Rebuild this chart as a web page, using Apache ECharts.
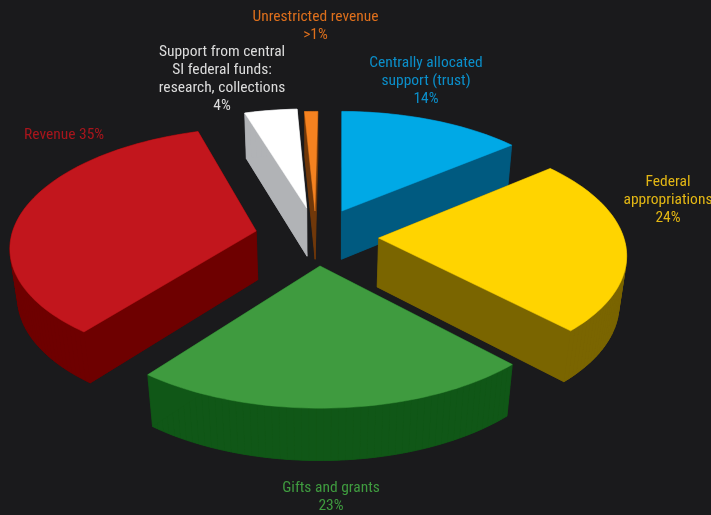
<!DOCTYPE html>
<html>
<head>
<meta charset="utf-8">
<style>html,body{margin:0;padding:0;background:#1a1a1c}#chart{width:711px;height:515px}</style>
<script src="https://cdn.jsdelivr.net/npm/echarts@6/dist/echarts.min.js"></script>
</head>
<body>
<div id="chart"></div>
<script>
// Funding sources, clockwise from twelve o'clock (percent)
var categories = ['Centrally allocated\nsupport (trust)', 'Federal\nappropriations', 'Gifts and grants', 'Revenue', 'Support from central\nSI federal funds:\nresearch, collections', 'Unrestricted revenue'];
var values = [14, 24, 23, 35, 4, 1];
var valueLabels = ['14%', '24%', '23%', '35%', '4%', '>1%'];

var topColors = ['#00a9e6', '#ffd400', '#3f9b3f', '#c2161d', '#ffffff', '#f58220'];
var wallColors = ['#005a80', '#7a6500', '#105717', '#6e0000', '#b1b3b6', '#70380a'];
var textColors = ['#0b8fca', '#e3b714', '#3f9b3f', '#a8151c', '#dcdcdc', '#dd6f1c'];

// How far each wedge is pulled out of the pie, in pie radii: [sideways, towards viewer]
var pullOut = [[0.092, -0.193], [0.239, 0.043], [0, 0.274], [-0.262, -0.017], [-0.056, -0.22], [-0.021, -0.193]];

// Camera settings for the tilted view
var cx = 320, cy = 233, rx = 244, rz = 116.5, depth = 50;
var pNear = 0.12, pDrop = 0.025, startDeg = 0.6;

function project(x, z, h) {
  var w = 1 / (1 - pNear * z + pDrop * h);
  return [cx + rx * x * w, cy + rz * z * w + depth * h * w];
}

var total = values.reduce(function (a, b) { return a + b; }, 0);
var slices = [];
var running = startDeg;
values.forEach(function (v, i) {
  var span = v / total * 360;
  slices.push({ index: i, a0: running, a1: running + span });
  running += span;
});
var drawOrder = slices.slice().sort(function (a, b) {
  return pullOut[a.index][1] - pullOut[b.index][1];
});

function sliceRing(s, h) {
  var ox = pullOut[s.index][0];
  var oz = pullOut[s.index][1];
  var pts = [project(ox, oz, h)];
  var n = Math.max(8, Math.round((s.a1 - s.a0) / 1.5));
  for (var k = 0; k <= n; k++) {
    var a = (s.a0 + (s.a1 - s.a0) * k / n) * Math.PI / 180;
    pts.push(project(ox + Math.sin(a), oz - Math.cos(a), h));
  }
  return pts;
}

function renderSlice(params, api) {
  var s = drawOrder[params.dataIndex];
  var i = s.index;
  var top = sliceRing(s, 0);
  var bottom = sliceRing(s, 1);
  var children = [];
  var wallStyle = { fill: wallColors[i], stroke: wallColors[i], lineWidth: 0.5 };
  children.push({ type: 'polygon', shape: { points: bottom }, style: wallStyle });
  for (var k = 0; k < top.length; k++) {
    var m = (k + 1) % top.length;
    children.push({
      type: 'polygon',
      shape: { points: [top[k], top[m], bottom[m], bottom[k]] },
      style: wallStyle
    });
  }
  children.push({
    type: 'polygon',
    shape: { points: top },
    style: { fill: topColors[i], stroke: topColors[i], lineWidth: 0.5 }
  });
  return { type: 'group', children: children };
}

// Anchor of each caption: [x, y of first line, align]
var captionAnchors = [
  [426, 54, 'center'], [668, 173, 'center'], [331, 479, 'center'],
  [24, 126, 'left'], [222, 43, 'center'], [315.5, 8, 'center']
];
var captions = categories.map(function (name, i) {
  var oneLine = i === 3;
  var text = name + (oneLine ? ' ' : '\n') + valueLabels[i];
  return {
    type: 'text',
    x: captionAnchors[i][0],
    y: captionAnchors[i][1],
    style: {
      text: text,
      fill: textColors[i],
      font: '15.5px "Liberation Sans Narrow", "Roboto Condensed", "Liberation Sans", sans-serif',
      lineHeight: 18,
      align: captionAnchors[i][2],
      verticalAlign: 'top'
    }
  };
});

var chart = echarts.init(document.getElementById('chart'), null, { renderer: 'canvas' });
chart.setOption({
  backgroundColor: '#1a1a1c',
  animation: false,
  graphic: captions,
  series: [{
    type: 'custom',
    coordinateSystem: 'none',
    renderItem: renderSlice,
    data: drawOrder.map(function (s) { return values[s.index]; }),
    silent: true
  }]
});
</script>
</body>
</html>
